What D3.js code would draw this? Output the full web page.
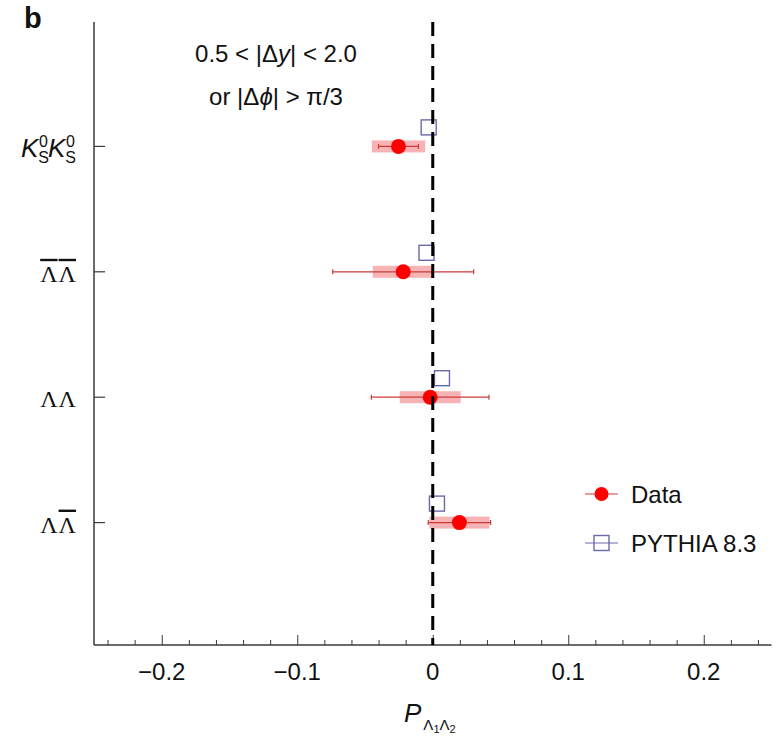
<!DOCTYPE html>
<html>
<head>
<meta charset="utf-8">
<script src="https://cdn.jsdelivr.net/npm/d3@7"></script>
<style>
  html, body { margin: 0; padding: 0; background: #fff; }
  svg { display: block; }
  text { font-family: "Liberation Sans", Arial, Helvetica, sans-serif; fill: #111; }
</style>
</head>
<body>
<svg id="chart" width="782" height="738"></svg>
<script>
// Pair categories, top to bottom
const categories = ["KsKs", "LbarLbar", "LL", "LLbar"];
// Measured polarization with statistical and systematic uncertainties
const dataValues = [-0.0253, -0.0218, -0.0019, 0.0197];
const statErrors = [0.0147, 0.052, 0.0434, 0.023];
const sysErrors  = [0.0197, 0.0225, 0.0225, 0.0222];
// PYTHIA 8.3 prediction
const pythiaValues = [-0.003, -0.0046, 0.0068, 0.0031];
// Axis ticks
const majorTicks = [-0.2, -0.1, 0, 0.1, 0.2];
const tickLabels = ["\u22120.2", "\u22120.1", "0", "0.1", "0.2"];
const minorTicks = d3.range(-12, 13).map(i => i * 0.02).filter(v => Math.abs(Math.round(v * 100) % 10) !== 0);

const svg = d3.select("#chart");
const plotLeft = 94, plotRight = 771.5, plotTop = 22, plotBottom = 645;

const x = d3.scaleLinear().domain([-0.25, 0.25]).range([plotLeft, plotRight]);
const y = d3.scalePoint().domain(categories).range([21, 648]).padding(1);

const axisColor = "#3a3a3a";

// Panel letter
svg.append("text").attr("x", 24).attr("y", 28)
  .style("font-weight", "bold").style("font-size", "29px").text("b");

// Left axis line and category ticks
svg.append("line").attr("x1", plotLeft).attr("x2", plotLeft).attr("y1", plotTop).attr("y2", plotBottom)
  .attr("stroke", axisColor).attr("stroke-width", 1.5);
svg.append("g").selectAll("line").data(categories).join("line")
  .attr("x1", plotLeft).attr("x2", plotLeft + 11)
  .attr("y1", d => y(d)).attr("y2", d => y(d))
  .attr("stroke", axisColor).attr("stroke-width", 1.2);

// Bottom axis with inward ticks
const xAxisMajor = d3.axisBottom(x).tickValues(majorTicks).tickSize(-10).tickFormat("");
const xAxisMinor = d3.axisBottom(x).tickValues(minorTicks).tickSize(-5).tickFormat("");
const gMinor = svg.append("g").attr("transform", `translate(0,${plotBottom})`).call(xAxisMinor);
const gMajor = svg.append("g").attr("transform", `translate(0,${plotBottom})`).call(xAxisMajor);
[gMinor, gMajor].forEach(g => {
  g.select(".domain").remove();
  g.selectAll(".tick line").attr("stroke", axisColor).attr("stroke-width", 1);
});
svg.append("line").attr("x1", plotLeft).attr("x2", plotRight).attr("y1", plotBottom).attr("y2", plotBottom)
  .attr("stroke", axisColor).attr("stroke-width", 1.5);

// Tick labels
svg.append("g").selectAll("text").data(majorTicks).join("text")
  .attr("x", d => x(d)).attr("y", 680)
  .attr("text-anchor", "middle").style("font-size", "24px")
  .text((d, i) => tickLabels[i]);

// Axis title P_{Λ1Λ2}
const title = svg.append("text").attr("x", 404).attr("y", 722).style("font-size", "26px");
title.append("tspan").style("font-style", "italic").text("P");
title.append("tspan").attr("dy", 8).attr("dx", 2).style("font-size", "15px").text("\u039B");
title.append("tspan").attr("dy", 3).style("font-size", "11px").text("1");
title.append("tspan").attr("dy", -3).style("font-size", "15px").text("\u039B");
title.append("tspan").attr("dy", 3).style("font-size", "11px").text("2");

// Category labels
function kLabel(g, cy) {
  const t = g.append("text").attr("x", 21).attr("y", cy + 10.5).style("font-size", "26px");
  for (let k = 0; k < 2; k++) {
    t.append("tspan").style("font-style", "italic").attr("dy", k === 0 ? 0 : 10).text("K");
    t.append("tspan").style("font-size", "16px").attr("dy", 6).text("S");
    t.append("tspan").style("font-size", "16px").attr("dx", -10).attr("dy", -16).text("0");
  }
}
function lambdaLabel(g, cy, bars) {
  const t = g.append("text").attr("x", 76).attr("y", cy + 10)
    .attr("text-anchor", "end")
    .style("font-family", "'Liberation Serif', 'Times New Roman', serif")
    .style("font-size", "24px");
  bars.forEach((b, i) => {
    const s = t.append("tspan").text("\u039B");
    if (i > 0) s.attr("dx", 1);
    if (b) s.style("text-decoration", "overline");
  });
}
const labels = svg.append("g");
kLabel(labels, y("KsKs"));
lambdaLabel(labels, y("LbarLbar"), [true, true]);
lambdaLabel(labels, y("LL"), [false, false]);
lambdaLabel(labels, y("LLbar"), [false, true]);

// Selection annotation
const ann = svg.append("g").style("font-size", "24px").attr("text-anchor", "middle");
const a1 = ann.append("text").attr("x", 276).attr("y", 62);
a1.append("tspan").text("0.5 < |\u0394");
a1.append("tspan").style("font-style", "italic").text("y");
a1.append("tspan").text("| < 2.0");
const a2 = ann.append("text").attr("x", 276).attr("y", 105);
a2.append("tspan").text("or |\u0394");
a2.append("tspan").style("font-style", "italic").text("\u03D5");
a2.append("tspan").text("| > \u03C0/3");

const rows = categories.map((c, i) => ({
  c, v: dataValues[i], stat: statErrors[i], sys: sysErrors[i], py: pythiaValues[i]
}));

// Systematic boxes
svg.append("g").selectAll("rect").data(rows).join("rect")
  .attr("x", d => x(d.v - d.sys)).attr("width", d => x(d.v + d.sys) - x(d.v - d.sys))
  .attr("y", d => y(d.c) - 6).attr("height", 12)
  .attr("fill", "#f8b4b4");

// Statistical error bars
const statColor = "#cc3a3a";
const eb = svg.append("g").attr("stroke", statColor).attr("stroke-width", 1.2);
eb.selectAll("line.bar").data(rows).join("line").attr("class", "bar")
  .attr("x1", d => x(d.v - d.stat)).attr("x2", d => x(d.v + d.stat))
  .attr("y1", d => y(d.c)).attr("y2", d => y(d.c));
eb.selectAll("line.capl").data(rows).join("line").attr("class", "capl")
  .attr("x1", d => x(d.v - d.stat)).attr("x2", d => x(d.v - d.stat))
  .attr("y1", d => y(d.c) - 2.5).attr("y2", d => y(d.c) + 2.5);
eb.selectAll("line.capr").data(rows).join("line").attr("class", "capr")
  .attr("x1", d => x(d.v + d.stat)).attr("x2", d => x(d.v + d.stat))
  .attr("y1", d => y(d.c) - 2.5).attr("y2", d => y(d.c) + 2.5);

// Data points
svg.append("g").selectAll("circle").data(rows).join("circle")
  .attr("cx", d => x(d.v)).attr("cy", d => y(d.c)).attr("r", 7.5)
  .attr("fill", "#ff0000");

// PYTHIA squares, drawn just above each row
const pyColor = "#6a6aaa";
const sq = 15;
svg.append("g").selectAll("rect").data(rows).join("rect")
  .attr("x", d => x(d.py) - sq / 2).attr("y", d => y(d.c) - 19 - sq / 2)
  .attr("width", sq).attr("height", sq)
  .attr("fill", "none").attr("stroke", pyColor).attr("stroke-width", 1.4);

// Zero reference line
svg.append("line").attr("x1", x(0)).attr("x2", x(0)).attr("y1", plotTop).attr("y2", plotBottom)
  .attr("stroke", "#000").attr("stroke-width", 3).attr("stroke-dasharray", "14,8");

// Legend
const lg = svg.append("g");
lg.append("line").attr("x1", 585).attr("x2", 618).attr("y1", 494).attr("y2", 494)
  .attr("stroke", statColor).attr("stroke-width", 1.2);
lg.append("circle").attr("cx", 601.5).attr("cy", 494).attr("r", 7).attr("fill", "#ff0000");
lg.append("text").attr("x", 631).attr("y", 503).style("font-size", "24px").text("Data");
lg.append("line").attr("x1", 585).attr("x2", 618).attr("y1", 543).attr("y2", 543)
  .attr("stroke", pyColor).attr("stroke-width", 1.2);
lg.append("rect").attr("x", 601.5 - 7.5).attr("y", 543 - 7.5).attr("width", 15).attr("height", 15)
  .attr("fill", "none").attr("stroke", pyColor).attr("stroke-width", 1.4);
lg.append("text").attr("x", 631).attr("y", 552).style("font-size", "24px").text("PYTHIA 8.3");
</script>
</body>
</html>
